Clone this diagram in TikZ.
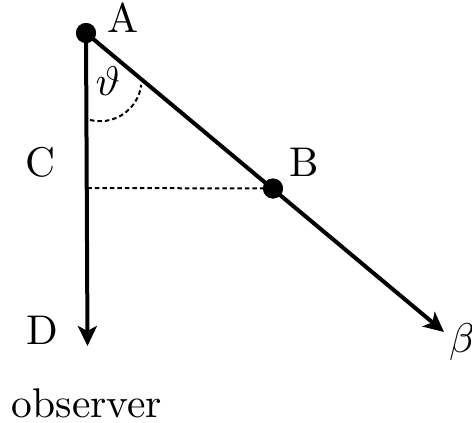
\RequirePackage{fix-cm}
\documentclass[tikz,border=0pt]{standalone}
\usepackage{fontspec}
\newfontfamily\lmten{lmroman10-regular.otf}
\DeclareFontShape{OML}{cmm}{m}{it}{<->cmmi10}{}
\usetikzlibrary{arrows.meta}
\tikzset{
  dot/.style={circle,fill=black,inner sep=0pt,minimum size=20pt},
  lbl/.style={inner sep=0pt,anchor=base,font=\lmten\fontsize{41.5}{50}\selectfont},
  mainline/.style={line width=4pt,-{Stealth[length=20pt,width=19pt,inset=5pt]}},
  helper/.style={line width=2pt,dash pattern=on 4.5pt off 3pt}
}
\begin{document}
\begin{tikzpicture}[x=1pt,y=-1pt]
\useasboundingbox (0,0) rectangle (472,423);
% points
\node[dot] (A) at (86,33) {};
\node[dot] (B) at (273,188.5) {};
\coordinate (D) at (87.5,346);
\coordinate (beta) at (444,332);
\coordinate (C) at (87.3,188);
% connectors
\draw[helper] (C) -- (B.center);
\draw[mainline] (A.center) -- (D);
\draw[mainline] (A.center) -- (beta);
\draw[helper] (90,120) arc[start angle=-104, end angle=-7, radius=41.5pt];
% labels
\node[lbl] (lA) at (123,32) {A};
\node[lbl] (lB) at (304.5,176) {B};
\node[lbl] (lC) at (40,176) {C};
\node[lbl] (lD) at (42,344) {D};
\node[lbl] (lth) at (108,95) {$\vartheta$};
\node[lbl,anchor=base west] (lbeta) at (449,352) {$\beta$};
\node[lbl] (lobs) at (87,417) {observer};
% redraw dots on top
\fill (A) circle (10pt);
\fill (B) circle (10pt);
\end{tikzpicture}
\end{document}
